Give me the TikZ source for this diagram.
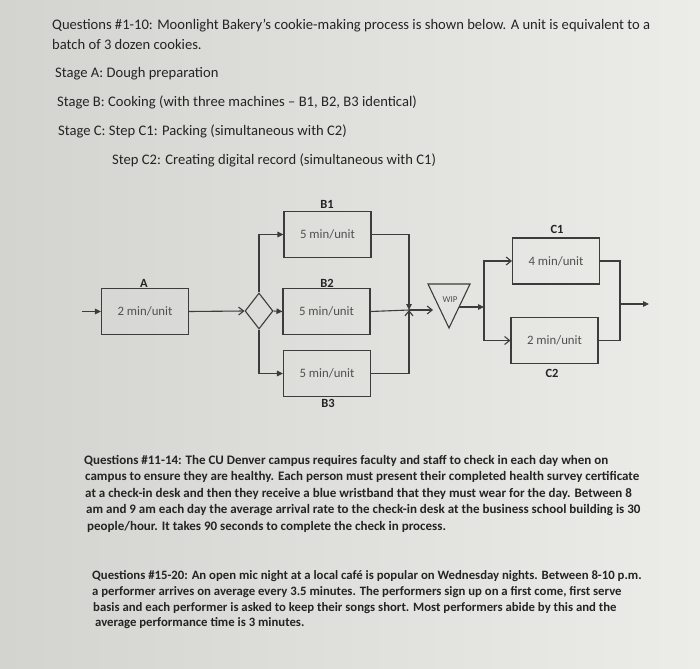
\documentclass[tikz,border=0pt]{standalone}
\usepackage{fontspec}
\setmainfont{Carlito}
\usetikzlibrary{arrows.meta,shapes.geometric}
\definecolor{bgL}{RGB}{211,211,207}
\definecolor{bgR}{RGB}{236,236,233}
\definecolor{ink}{RGB}{36,36,36}
\definecolor{linec}{RGB}{60,60,60}
\begin{document}
\begin{tikzpicture}[x=1pt,y=-1pt,
  toptext/.style={anchor=base west, inner sep=0, text=ink, font=\fontsize{14.6}{17}\selectfont},
  para/.style={anchor=base west, inner sep=0, text=ink, font=\bfseries\fontsize{13}{15}\selectfont},
  parb/.style={anchor=base west, inner sep=0, text=ink, font=\bfseries\fontsize{12.75}{15}\selectfont},
  box/.style={draw=linec, line width=1.1pt, minimum width=87pt, minimum height=46pt, inner sep=0, text=ink!80, font=\fontsize{12.8}{15}\selectfont},
  lbl/.style={text=ink, font=\bfseries\fontsize{12.5}{14}\selectfont, inner sep=0},
  conn/.style={draw=linec, line width=1.1pt},
  fa/.style={conn, -{Triangle[length=6pt,width=5.5pt]}},
  oa/.style={conn, -{Straight Barb[length=5pt,width=8pt]}}]
\shade[left color=bgL,right color=bgR] (0,0) rectangle (700,668);
\useasboundingbox (0,0) rectangle (700,668);

% top text
\node[toptext] (t1) at (52,30) {Questions \#1-10: Moonlight Bakery’s cookie-making process is shown below. A unit is equivalent to a};
\node[toptext] (t2) at (52,50) {batch of 3 dozen cookies.};
\node[toptext] (t3) at (55,78) {Stage A: Dough preparation};
\node[toptext] (t4) at (57,107) {Stage B: Cooking (with three machines -- B1, B2, B3 identical)};
\node[toptext] (t5) at (58,136) {Stage C: Step C1: Packing (simultaneous with C2)};
\node[toptext] (t6) at (112,165) {Step C2: Creating digital record (simultaneous with C1)};

% diagram
\node[box] (A) at (145,311.5) {2 min/unit};
\node[box] (B1) at (327.5,234.5) {5 min/unit};
\node[box] (B2) at (326.5,311.5) {5 min/unit};
\node[box] (B3) at (327,373.5) {5 min/unit};
\node[box] (C1) at (556,261) {4 min/unit};
\node[box] (C2) at (554.5,340.5) {2 min/unit};
\node[lbl] (lA) at (144,283) {A};
\node[lbl] (lB1) at (327,204) {B1};
\node[lbl] (lB2) at (327,283) {B2};
\node[lbl] (lB3) at (328,403) {B3};
\node[lbl] (lC1) at (557,229) {C1};
\node[lbl] (lC2) at (552,373) {C2};
\node[diamond, draw=linec, line width=1.1pt, minimum width=28pt, minimum height=36pt, inner sep=0] (D) at (259,311) {};

\coordinate (W1) at (428,284);
\coordinate (W2) at (470,284);
\coordinate (W3) at (449,328);
\draw[conn, line join=miter] (W1) -- (W2) -- (W3) -- cycle;
\node[inner sep=0, text=ink!80, font=\fontsize{9}{10}\selectfont] (wip) at (450,300) {WIP};

\coordinate (in) at (82,311.5);
\coordinate (J) at (409,310);
\coordinate (Wl) at (433,310);
\coordinate (Wr) at (459,307);
\coordinate (F) at (484,307);
\coordinate (M) at (620,304);
\coordinate (out) at (649,304);

\draw[fa] (in) -- (A.west);
\draw[oa] (A.east) -- (D.west);
\draw[fa] (D.north) |- (B1.west);
\draw[fa] (D.east) -- (B2.west);
\draw[fa] (D.south) |- (B3.west);
\draw[fa] (B1.east) -| (J);
\draw[oa] (B3.east) -| (J);
\draw[conn] (B2.east) -- (J);
\draw[oa] (J) -- (Wl);
\draw[fa] (Wr) -- (F);
\draw[oa] (F) |- (C1.west);
\draw[oa] (F) |- (C2.west);
\draw[conn] (C1.east) -| (M);
\draw[conn] (C2.east) -| (M);
\draw[fa] (M) -- (out);

% bottom paragraphs
\node[para] (p1) at (84,464) {Questions \#11-14: The CU Denver campus requires faculty and staff to check in each day when on};
\node[para] (p2) at (85,480.5) {campus to ensure they are healthy. Each person must present their completed health survey certificate};
\node[para] (p3) at (85,497) {at a check-in desk and then they receive a blue wristband that they must wear for the day. Between 8};
\node[para] (p4) at (86,513.5) {am and 9 am each day the average arrival rate to the check-in desk at the business school building is 30};
\node[para] (p5) at (87,530) {people/hour. It takes 90 seconds to complete the check in process.};

\node[parb] (q1) at (92,579.5) {Questions \#15-20: An open mic night at a local café is popular on Wednesday nights. Between 8-10 p.m.};
\node[parb] (q2) at (92,595) {a performer arrives on average every 3.5 minutes. The performers sign up on a first come, first serve};
\node[parb] (q3) at (93,611) {basis and each performer is asked to keep their songs short. Most performers abide by this and the};
\node[parb] (q4) at (95,626.5) {average performance time is 3 minutes.};
\end{tikzpicture}
\end{document}
